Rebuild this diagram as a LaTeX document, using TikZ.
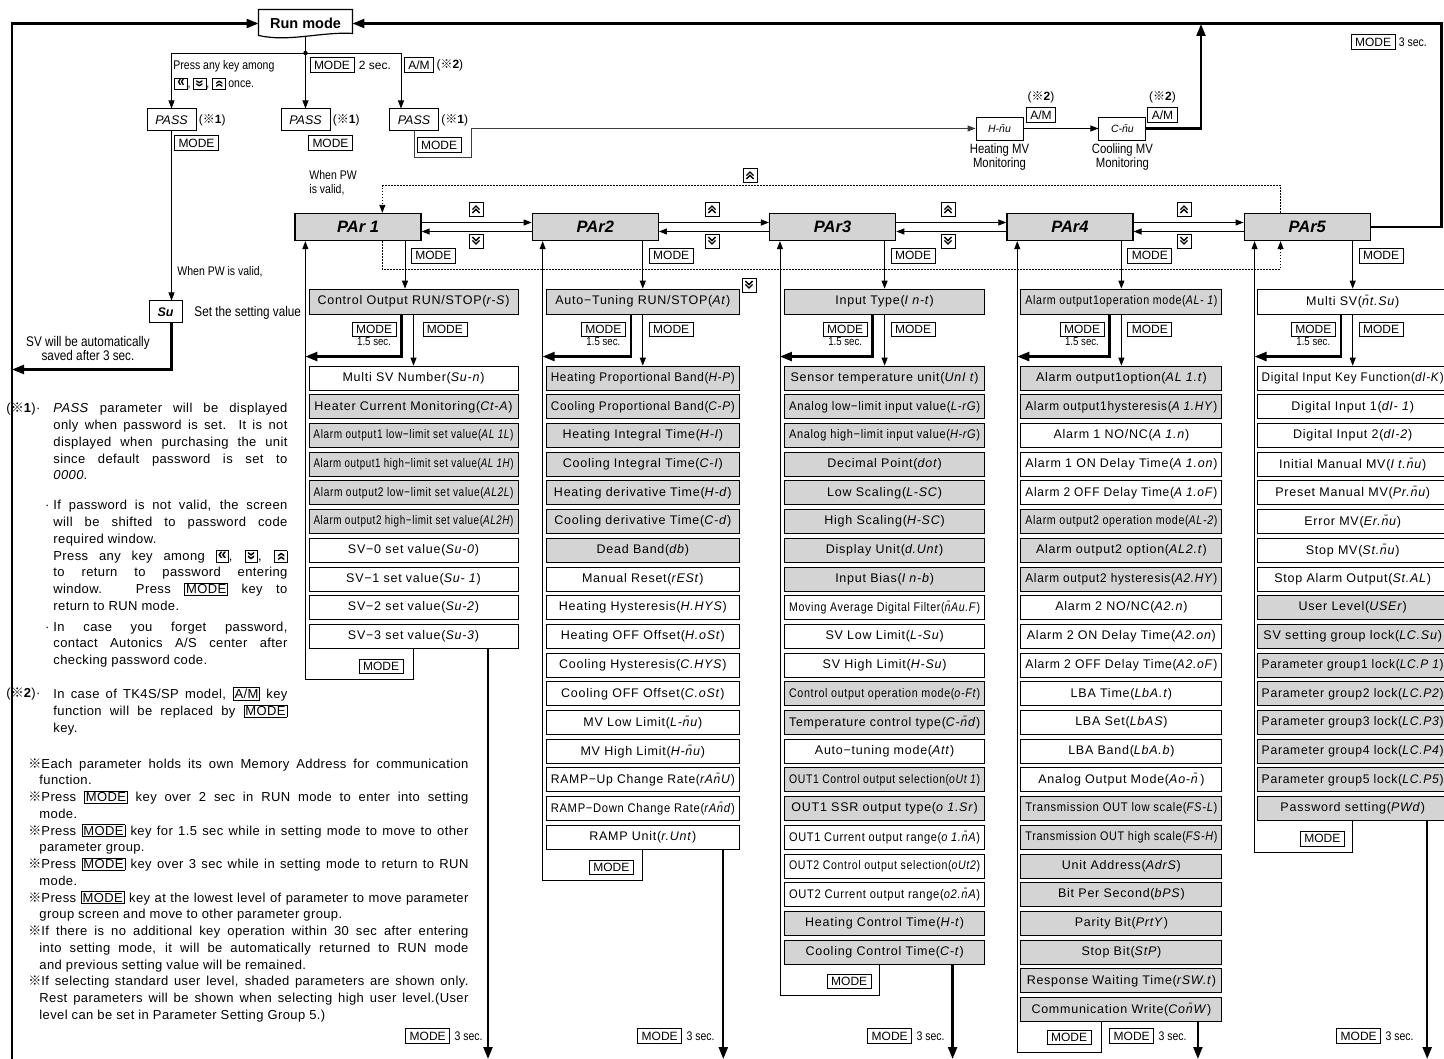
\documentclass[tikz,border=0pt]{standalone}
\usepackage{fontspec}
\usepackage{graphicx}
\setmainfont{Liberation Sans}
\newfontfamily\rowfont{Liberation Sans}[LetterSpace=6]
\newfontfamily\notefont{Liberation Sans}[LetterSpace=3]
\newfontfamily\narrow{Liberation Sans}[FakeStretch=0.84]
\newfontfamily\cjk{Noto Sans CJK SC}
\usetikzlibrary{positioning,arrows.meta}
\definecolor{boxgray}{RGB}{212,212,212}
\definecolor{linegray}{RGB}{60,60,60}
\newcommand\rmark{{\cjk ※}}
\newcommand\cd[1]{\textit{#1}}
\newcommand\upch{\rotatebox[origin=c]{-90}{«}}
\newcommand\dnch{\rotatebox[origin=c]{90}{«}}
\newcommand\kbox[1]{{\setlength\fboxsep{0.4pt}\setlength\fboxrule{0.9pt}\fbox{\makebox[10.5pt][c]{\bfseries\fontsize{16}{16}\selectfont\rule[-1.5pt]{0pt}{10pt}#1}}}}
\newcommand\kleft{\kbox{\raisebox{0.5pt}{«}}}
\newcommand\kup{\kbox{\upch}}
\newcommand\kdown{\kbox{\dnch}}
\newcommand\mkey[1]{{\setlength\fboxsep{1pt}\setlength\fboxrule{0.8pt}\fbox{#1}}}
\newcommand\nitem{\par\hangindent=11pt\hangafter=1\noindent\rmark}
\newsavebox\rowsave
\newcommand\fitrow[1]{\sbox\rowsave{#1}%
  \ifdim\wd\rowsave>\dimexpr\colw pt-9pt\relax
    \resizebox{\dimexpr\colw pt-9pt\relax}{\ht\rowsave}{\usebox\rowsave}%
  \else\usebox\rowsave\fi}
\begin{document}
\begin{tikzpicture}[x=1pt, y=-1pt, node distance=28.7pt, line width=0.9pt,
    >={Triangle[length=8pt,width=6pt]},
    every node/.style={font=\fontsize{12}{14}\selectfont},
    lbl/.style={inner sep=1pt},
    nlbl/.style={inner sep=1pt, font=\narrow\fontsize{12.5}{14}\selectfont},
    runbox/.style={minimum width=93pt, minimum height=27pt, font=\bfseries\fontsize{14.5}{16}\selectfont},
    pwbox/.style={draw, line width=1pt, minimum width=49pt, minimum height=22pt, inner sep=0pt, font=\itshape\fontsize{12.5}{14}\selectfont},
    grp/.style={draw, line width=1.3pt, fill=boxgray, minimum width=126pt, minimum height=27pt, inner sep=0pt, font=\bfseries\itshape\fontsize{16.5}{18}\selectfont},
    prow/.style={draw, minimum width=\colw pt, minimum height=24pt, inner sep=0pt, font=\rowfont\fontsize{12.5}{14}\selectfont},
    srow/.style={prow, fill=boxgray},
    keylbl/.style={draw, line width=0.8pt, inner xsep=4pt, inner ysep=0pt, minimum height=14.5pt, font=\fontsize{12}{12}\selectfont},
    keyic/.style={draw, minimum size=14pt, inner sep=0pt},
    keyup/.style={keyic, path picture={\draw[line width=1.3pt]
      ([shift={(-3.6pt,-0.6pt)}]path picture bounding box.center) -- ++(3.6pt,3.6pt) -- ++(3.6pt,-3.6pt)
      ([shift={(-3.6pt,-4pt)}]path picture bounding box.center) -- ++(3.6pt,3.6pt) -- ++(3.6pt,-3.6pt);}},
    keydn/.style={keyic, path picture={\draw[line width=1.3pt]
      ([shift={(-3.6pt,0.6pt)}]path picture bounding box.center) -- ++(3.6pt,-3.6pt) -- ++(3.6pt,3.6pt)
      ([shift={(-3.6pt,4pt)}]path picture bounding box.center) -- ++(3.6pt,-3.6pt) -- ++(3.6pt,3.6pt);}},
    notes/.style={inner sep=0pt, align=justify, font=\notefont\fontsize{13}{16.75}\selectfont},
    thick line/.style={line width=2.3pt, -{Triangle[length=12pt,width=9pt]}},
    dotline/.style={dash pattern=on 1.5pt off 1.5pt}]
\useasboundingbox (0,0) rectangle (1444,1059);

% run mode and password entry
\node[runbox] (run) at (305.5,23.5) {Run mode};
\draw[line width=1.2pt] ([yshift=2pt]run.south west) -- (run.north west) -- (run.north east) -- ([yshift=4pt]run.south east) .. controls +(-30,-2) and +(30,7) .. ([yshift=2pt]run.south west) -- cycle;
\coordinate (j) at (305.5,53);
\draw (run.south) -- (j);
\fill (j) circle (2.2pt);
\node[pwbox] (pw1) at (171.5,120) {\cd{PASS}};
\node[pwbox] (pw2) at (305.5,120) {\cd{PASS}};
\node[pwbox] (pw3) at (414,120) {\cd{PASS}};
\coordinate[xshift=-13pt] (p3) at (pw3.north);
\draw[->] (j) -| (pw1.north);
\draw[->] (j) -- (pw2.north);
\draw[->] (j) -| (p3);
\node[nlbl, anchor=west] (hint1) at (172,66) {Press any key among};
\node[nlbl, anchor=west] (hint2) at (173,84) {\kleft, \kdown, \kup\ once.};
\node[keylbl] (m0a) at (332,65) {MODE};
\node[lbl, right=3pt of m0a] (t0a) {2 sec.};
\node[keylbl] (m0b) at (419,65) {A/M};
\node[lbl, right=1pt of m0b] (t0b) {(\rmark\textbf{2})};
\node[lbl, right=1pt of pw1] (f1) {(\rmark\textbf{1})};
\node[lbl, right=1pt of pw2] (f2) {(\rmark\textbf{1})};
\node[lbl, right=1pt of pw3] (f3) {(\rmark\textbf{1})};
\node[keylbl, below=4pt of pw1.south east] (m0c) {MODE};
\node[keylbl, below=4pt of pw2.south east] (m0d) {MODE};
\node[keylbl, below=6pt of pw3.south east] (m0e) {MODE};
\node[nlbl, anchor=north west, align=left] (pwv) at (308,169) {When PW\\is valid,};
\node[pwbox, minimum width=33pt, font=\bfseries\itshape\fontsize{12.5}{14}\selectfont] (sv) at (165.5,312) {Su};
\draw[->] (pw1.south) -- (pw1.south |- sv.north);
\node[nlbl, anchor=west] (pwv2) at (176,272) {When PW is valid,};
\node[nlbl, anchor=west, font=\narrow\fontsize{14}{15}\selectfont] (svt) at (193,313) {Set the setting value};
\node[nlbl, align=center, font=\narrow\fontsize{14}{14}\selectfont] (svs) at (88,348) {SV will be automatically\\saved after 3 sec.};
\coordinate (ft) at (12,23.5);
\coordinate (fb) at (12,1062);
\draw[thick line] (fb) -- (ft) -- (run.west);
\draw[thick line] (sv.south -| pw1.south) -- ++(0,46) coordinate (sb) -- (sb -| ft);

% manual MV monitoring
\node[draw, minimum width=47pt, minimum height=23pt, inner sep=0pt, font=\itshape\fontsize{10.5}{12}\selectfont] (hmv) at (999.5,128.5) {H-\=nu};
\node[draw, minimum width=47pt, minimum height=23pt, inner sep=0pt, font=\itshape\fontsize{10.5}{12}\selectfont, right=75pt of hmv] (cmv) {C-\=nu};
\coordinate (b3) at (471,157);
\draw[->, linegray] (pw3.south) -- (pw3.south |- b3) -- (b3) -- (b3 |- hmv.west) -- (hmv.west);
\draw[->] (hmv) -- (cmv);
\node[keylbl] (am1) at (1041,115) {A/M};
\node[lbl] (n21) at (1041,97) {(\rmark\textbf{2})};
\node[keylbl] (am2) at (1162.5,115) {A/M};
\node[lbl] (n22) at (1162.5,97) {(\rmark\textbf{2})};
\node[nlbl, below=2pt of hmv, align=center, font=\narrow\fontsize{13.5}{14}\selectfont] (hml) {Heating MV\\Monitoring};
\node[nlbl, below=2pt of cmv, align=center, font=\narrow\fontsize{13.5}{14}\selectfont] (cml) {Cooliing MV\\Monitoring};
\coordinate (cu) at (1201,24);
\draw[thick line] (cmv.east) -| (cu);
\coordinate (rt) at (1441.5,23.5);
\node[keylbl] (m0f) at (1373,42) {MODE};
\node[nlbl, right=2pt of m0f] (t0f) {3 sec.};

% parameter groups
\node[grp] (g1) at (358,227) {PAr 1};
\node[grp, right=110pt of g1] (g2) {PAr2};
\node[grp, right=110pt of g2] (g3) {PAr3};
\node[grp, right=110pt of g3] (g4) {PAr4};
\node[grp, right=110pt of g4] (g5) {PAr5};
\draw[thick line] (g5.east) -| (rt) -- (run.east);
\draw[->] ([yshift=4.5pt]g1.east) -- ([yshift=4.5pt]g2.west);
\draw[->] ([yshift=-4.5pt]g2.west) -- ([yshift=-4.5pt]g1.east);
\draw[->] ([yshift=4.5pt]g2.east) -- ([yshift=4.5pt]g3.west);
\draw[->] ([yshift=-4.5pt]g3.west) -- ([yshift=-4.5pt]g2.east);
\draw[->] ([yshift=4.5pt]g3.east) -- ([yshift=4.5pt]g4.west);
\draw[->] ([yshift=-4.5pt]g4.west) -- ([yshift=-4.5pt]g3.east);
\draw[->] ([yshift=4.5pt]g4.east) -- ([yshift=4.5pt]g5.west);
\draw[->] ([yshift=-4.5pt]g5.west) -- ([yshift=-4.5pt]g4.east);
\node[keyup] (ku1) at (476,209) {};
\node[keydn] (kd1) at (476,241) {};
\node[keyup] (ku2) at (712,209) {};
\node[keydn] (kd2) at (712,241) {};
\node[keyup] (ku3) at (948,209) {};
\node[keydn] (kd3) at (948,241) {};
\node[keyup] (ku4) at (1184,209) {};
\node[keydn] (kd4) at (1184,241) {};
\coordinate[xshift=88pt] (d1) at (g1.north west);
\coordinate[xshift=37pt] (d5) at (g5.north west);
\draw[dotline, ->] (d5) -- ++(0,-27) coordinate (dd) -- (dd -| d1) -- (d1);
\node[keyup] (ktop) at (750,175) {};
\coordinate[xshift=88pt] (e1) at (g1.south west);
\coordinate[xshift=37pt] (e5) at (g5.south west);
\draw[dotline, ->] (e1) -- ++(0,28) coordinate (de) -- (de -| e5) -- (e5);
\node[keydn] (kbot) at (749,285) {};
\coordinate (bot) at (0,1059);

% group 1
\def\colw{209}
\node[srow, minimum height=25pt, below=47.5pt of g1, xshift=55.5pt] (r1a) {\fitrow{Control Output RUN/STOP(\cd{r-S})}};
\node[prow, below of=r1a, yshift=-47.8pt] (r1b) {\fitrow{Multi SV Number(\cd{Su-n})}};
\node[srow, below of=r1b] (r1c) {\fitrow{Heater Current Monitoring(\cd{Ct-A})}};
\node[srow, below of=r1c] (r1d) {\fitrow{Alarm output1 low−limit set value(\cd{AL 1L})}};
\node[srow, below of=r1d] (r1e) {\fitrow{Alarm output1 high−limit set value(\cd{AL 1H})}};
\node[srow, below of=r1e] (r1f) {\fitrow{Alarm output2 low−limit set value(\cd{AL2L})}};
\node[srow, below of=r1f] (r1g) {\fitrow{Alarm output2 high−limit set value(\cd{AL2H})}};
\node[prow, below of=r1g] (r1h) {\fitrow{SV−0 set value(\cd{Su-0})}};
\node[prow, below of=r1h] (r1i) {\fitrow{SV−1 set value(\cd{Su- 1})}};
\node[prow, below of=r1i] (r1j) {\fitrow{SV−2 set value(\cd{Su-2})}};
\node[prow, below of=r1j] (r1k) {\fitrow{SV−3 set value(\cd{Su-3})}};
\coordinate[xshift=11pt] (u1) at (g1.south west);
\coordinate[xshift=-8.5pt] (k1) at (g1.south -| r1a.north);
\draw[->] (k1) -- (k1 |- r1a.north);
\node[keylbl, below right=7pt and 6pt of k1] (m1a) {MODE};
\coordinate[xshift=-12pt] (t1) at (r1a.south);
\draw[thick line] (t1) -- ++(0,42) coordinate (h1) -- (h1 -| u1);
\node[keylbl, below left=7pt and 5pt of t1] (m1b) {MODE};
\node[nlbl, font=\narrow\fontsize{11.5}{12}\selectfont, below=-1pt of m1b] (s1b) {1.5 sec.};
\node[keylbl, below right=7pt and 9pt of r1a.south] (m1c) {MODE};
\draw[->] (r1a.south) -- (r1b.north);
\draw[->] (r1k.south) -- ++(0,31) coordinate (v1) -- (v1 -| u1) -- (u1);
\node[keylbl, below left=10pt and 10pt of r1k.south] (m1d) {MODE};
\coordinate[xshift=74.5pt] (x1) at (r1k.south);
\draw[thick line] (x1) -- (x1 |- bot);
\node[nlbl, anchor=east] (s1z) at (484,1036) {3 sec.};
\node[keylbl, left=3pt of s1z] (m1z) {MODE};

% group 2
\def\colw{193}
\node[srow, minimum height=25pt, below=47.5pt of g2, xshift=47.5pt] (r2a) {\fitrow{Auto−Tuning RUN/STOP(\cd{At})}};
\node[srow, below of=r2a, yshift=-47.8pt] (r2b) {\fitrow{Heating Proportional Band(\cd{H-P})}};
\node[srow, below of=r2b] (r2c) {\fitrow{Cooling Proportional Band(\cd{C-P})}};
\node[srow, below of=r2c] (r2d) {\fitrow{Heating Integral Time(\cd{H-I})}};
\node[srow, below of=r2d] (r2e) {\fitrow{Cooling Integral Time(\cd{C-I})}};
\node[srow, below of=r2e] (r2f) {\fitrow{Heating derivative Time(\cd{H-d})}};
\node[srow, below of=r2f] (r2g) {\fitrow{Cooling derivative Time(\cd{C-d})}};
\node[srow, below of=r2g] (r2h) {\fitrow{Dead Band(\cd{db})}};
\node[prow, below of=r2h] (r2i) {\fitrow{Manual Reset(\cd{rESt})}};
\node[prow, below of=r2i] (r2j) {\fitrow{Heating Hysteresis(\cd{H.HYS})}};
\node[prow, below of=r2j] (r2k) {\fitrow{Heating OFF Offset(\cd{H.oSt})}};
\node[prow, below of=r2k] (r2l) {\fitrow{Cooling Hysteresis(\cd{C.HYS})}};
\node[prow, below of=r2l] (r2m) {\fitrow{Cooling OFF Offset(\cd{C.oSt})}};
\node[prow, below of=r2m] (r2n) {\fitrow{MV Low Limit(\cd{L-\=nu})}};
\node[prow, below of=r2n] (r2o) {\fitrow{MV High Limit(\cd{H-\=nu})}};
\node[prow, below of=r2o] (r2p) {\fitrow{RAMP−Up Change Rate(\cd{rA\=nU})}};
\node[prow, below of=r2p] (r2q) {\fitrow{RAMP−Down Change Rate(\cd{rA\=nd})}};
\node[prow, below of=r2q] (r2r) {\fitrow{RAMP Unit(\cd{r.Unt})}};
\coordinate[xshift=11pt] (u2) at (g2.south west);
\coordinate (k2) at (g2.south -| r2a.north);
\draw[->] (k2) -- (k2 |- r2a.north);
\node[keylbl, below right=7pt and 6pt of k2] (m2a) {MODE};
\coordinate[xshift=-12pt] (t2) at (r2a.south);
\draw[thick line] (t2) -- ++(0,42) coordinate (h2) -- (h2 -| u2);
\node[keylbl, below left=7pt and 5pt of t2] (m2b) {MODE};
\node[nlbl, font=\narrow\fontsize{11.5}{12}\selectfont, below=-1pt of m2b] (s2b) {1.5 sec.};
\node[keylbl, below right=7pt and 6pt of r2a.south] (m2c) {MODE};
\draw[->] (r2a.south) -- (r2b.north);
\draw[->] (r2r.south) -- ++(0,31) coordinate (v2) -- (v2 -| u2) -- (u2);
\node[keylbl, below left=10pt and 9pt of r2r.south] (m2d) {MODE};
\coordinate[xshift=80.5pt] (x2) at (r2r.south);
\draw[thick line] (x2) -- (x2 |- bot);
\node[nlbl, anchor=east] (s2z) at (716,1036) {3 sec.};
\node[keylbl, left=3pt of s2z] (m2z) {MODE};

% group 3
\def\colw{200}
\node[srow, minimum height=25pt, below=47.5pt of g3, xshift=52pt] (r3a) {\fitrow{Input Type(\cd{I n-t})}};
\node[srow, below of=r3a, yshift=-47.8pt] (r3b) {\fitrow{Sensor temperature unit(\cd{UnI t})}};
\node[srow, below of=r3b] (r3c) {\fitrow{Analog low−limit input value(\cd{L-rG})}};
\node[srow, below of=r3c] (r3d) {\fitrow{Analog high−limit input value(\cd{H-rG})}};
\node[srow, below of=r3d] (r3e) {\fitrow{Decimal Point(\cd{dot})}};
\node[srow, below of=r3e] (r3f) {\fitrow{Low Scaling(\cd{L-SC})}};
\node[srow, below of=r3f] (r3g) {\fitrow{High Scaling(\cd{H-SC})}};
\node[srow, below of=r3g] (r3h) {\fitrow{Display Unit(\cd{d.Unt})}};
\node[srow, below of=r3h] (r3i) {\fitrow{Input Bias(\cd{I n-b})}};
\node[prow, below of=r3i] (r3j) {\fitrow{Moving Average Digital Filter(\cd{\=nAu.F})}};
\node[prow, below of=r3j] (r3k) {\fitrow{SV Low Limit(\cd{L-Su})}};
\node[prow, below of=r3k] (r3l) {\fitrow{SV High Limit(\cd{H-Su})}};
\node[srow, below of=r3l] (r3m) {\fitrow{Control output operation mode(\cd{o-Ft})}};
\node[srow, below of=r3m] (r3n) {\fitrow{Temperature control type(\cd{C-\=nd})}};
\node[prow, below of=r3n] (r3o) {\fitrow{Auto−tuning mode(\cd{Att})}};
\node[srow, below of=r3o] (r3p) {\fitrow{OUT1 Control output selection(\cd{oUt 1})}};
\node[srow, below of=r3p] (r3q) {\fitrow{OUT1 SSR output type(\cd{o 1.Sr})}};
\node[prow, below of=r3q] (r3r) {\fitrow{OUT1 Current output range(\cd{o 1.\=nA})}};
\node[prow, below of=r3r] (r3s) {\fitrow{OUT2 Control output selection(\cd{oUt2})}};
\node[prow, below of=r3s] (r3t) {\fitrow{OUT2 Current output range(\cd{o2.\=nA})}};
\node[srow, below of=r3t] (r3u) {\fitrow{Heating Control Time(\cd{H-t})}};
\node[srow, below of=r3u] (r3v) {\fitrow{Cooling Control Time(\cd{C-t})}};
\coordinate[xshift=11pt] (u3) at (g3.south west);
\coordinate (k3) at (g3.south -| r3a.north);
\draw[->] (k3) -- (k3 |- r3a.north);
\node[keylbl, below right=7pt and 6pt of k3] (m3a) {MODE};
\coordinate[xshift=-12pt] (t3) at (r3a.south);
\draw[thick line] (t3) -- ++(0,42) coordinate (h3) -- (h3 -| u3);
\node[keylbl, below left=7pt and 5pt of t3] (m3b) {MODE};
\node[nlbl, font=\narrow\fontsize{11.5}{12}\selectfont, below=-1pt of m3b] (s3b) {1.5 sec.};
\node[keylbl, below right=7pt and 6pt of r3a.south] (m3c) {MODE};
\draw[->] (r3a.south) -- (r3b.north);
\coordinate[xshift=-5pt] (l3) at (r3v.south);
\draw[->] (l3) -- ++(0,31) coordinate (v3) -- (v3 -| u3) -- (u3);
\node[keylbl, below left=9pt and 8pt of l3] (m3d) {MODE};
\coordinate[xshift=68pt] (x3) at (r3v.south);
\draw[thick line] (x3) -- (x3 |- bot);
\node[nlbl, anchor=east] (s3z) at (946,1036) {3 sec.};
\node[keylbl, left=3pt of s3z] (m3z) {MODE};

% group 4
\def\colw{201}
\node[srow, minimum height=25pt, below=47.5pt of g4, xshift=51.5pt] (r4a) {\fitrow{Alarm output1operation mode(\cd{AL- 1})}};
\node[srow, below of=r4a, yshift=-47.8pt] (r4b) {\fitrow{Alarm output1option(\cd{AL 1.t})}};
\node[srow, below of=r4b] (r4c) {\fitrow{Alarm output1hysteresis(\cd{A 1.HY})}};
\node[prow, below of=r4c] (r4d) {\fitrow{Alarm 1 NO/NC(\cd{A 1.n})}};
\node[prow, below of=r4d] (r4e) {\fitrow{Alarm 1 ON Delay Time(\cd{A 1.on})}};
\node[prow, below of=r4e] (r4f) {\fitrow{Alarm 2 OFF Delay Time(\cd{A 1.oF})}};
\node[srow, below of=r4f] (r4g) {\fitrow{Alarm output2 operation mode(\cd{AL-2})}};
\node[srow, below of=r4g] (r4h) {\fitrow{Alarm output2 option(\cd{AL2.t})}};
\node[srow, below of=r4h] (r4i) {\fitrow{Alarm output2 hysteresis(\cd{A2.HY})}};
\node[prow, below of=r4i] (r4j) {\fitrow{Alarm 2 NO/NC(\cd{A2.n})}};
\node[prow, below of=r4j] (r4k) {\fitrow{Alarm 2 ON Delay Time(\cd{A2.on})}};
\node[prow, below of=r4k] (r4l) {\fitrow{Alarm 2 OFF Delay Time(\cd{A2.oF})}};
\node[prow, below of=r4l] (r4m) {\fitrow{LBA Time(\cd{LbA.t})}};
\node[prow, below of=r4m] (r4n) {\fitrow{LBA Set(\cd{LbAS})}};
\node[prow, below of=r4n] (r4o) {\fitrow{LBA Band(\cd{LbA.b})}};
\node[prow, below of=r4o] (r4p) {\fitrow{Analog Output Mode(\cd{Ao-\=n})}};
\node[srow, below of=r4p] (r4q) {\fitrow{Transmission OUT low scale(\cd{FS-L})}};
\node[srow, below of=r4q] (r4r) {\fitrow{Transmission OUT high scale(\cd{FS-H})}};
\node[srow, below of=r4r] (r4s) {\fitrow{Unit Address(\cd{AdrS})}};
\node[srow, below of=r4s] (r4t) {\fitrow{Bit Per Second(\cd{bPS})}};
\node[srow, below of=r4t] (r4u) {\fitrow{Parity Bit(\cd{PrtY})}};
\node[srow, below of=r4u] (r4v) {\fitrow{Stop Bit(\cd{StP})}};
\node[srow, below of=r4v] (r4w) {\fitrow{Response Waiting Time(\cd{rSW.t})}};
\node[srow, below of=r4w] (r4x) {\fitrow{Communication Write(\cd{Co\=nW})}};
\coordinate[xshift=11pt] (u4) at (g4.south west);
\coordinate (k4) at (g4.south -| r4a.north);
\draw[->] (k4) -- (k4 |- r4a.north);
\node[keylbl, below right=7pt and 6pt of k4] (m4a) {MODE};
\coordinate[xshift=-12pt] (t4) at (r4a.south);
\draw[thick line] (t4) -- ++(0,42) coordinate (h4) -- (h4 -| u4);
\node[keylbl, below left=7pt and 5pt of t4] (m4b) {MODE};
\node[nlbl, font=\narrow\fontsize{11.5}{12}\selectfont, below=-1pt of m4b] (s4b) {1.5 sec.};
\node[keylbl, below right=7pt and 6pt of r4a.south] (m4c) {MODE};
\draw[->] (r4a.south) -- (r4b.north);
\coordinate[xshift=-20pt] (l4) at (r4x.south);
\draw[->] (l4) -- ++(0,30) coordinate (v4) -- (v4 -| u4) -- (u4);
\node[keylbl, below left=8pt and 10pt of l4] (m4d) {MODE};
\coordinate[xshift=76.5pt] (x4) at (r4x.south);
\draw[thick line] (x4) -- (x4 |- bot);
\node[nlbl, anchor=east] (s4z) at (1188,1036) {3 sec.};
\node[keylbl, left=3pt of s4z] (m4z) {MODE};

% group 5
\def\colw{191}
\node[prow, minimum height=25pt, below=47.5pt of g5, xshift=45.5pt] (r5a) {\fitrow{Multi SV(\cd{\=nt.Su})}};
\node[prow, below of=r5a, yshift=-47.8pt] (r5b) {\fitrow{Digital Input Key Function(\cd{dI-K})}};
\node[prow, below of=r5b] (r5c) {\fitrow{Digital Input 1(\cd{dI- 1})}};
\node[prow, below of=r5c] (r5d) {\fitrow{Digital Input 2(\cd{dI-2})}};
\node[prow, below of=r5d] (r5e) {\fitrow{Initial Manual MV(\cd{I t.\=nu})}};
\node[prow, below of=r5e] (r5f) {\fitrow{Preset Manual MV(\cd{Pr.\=nu})}};
\node[prow, below of=r5f] (r5g) {\fitrow{Error MV(\cd{Er.\=nu})}};
\node[prow, below of=r5g] (r5h) {\fitrow{Stop MV(\cd{St.\=nu})}};
\node[prow, below of=r5h] (r5i) {\fitrow{Stop Alarm Output(\cd{St.AL})}};
\node[srow, below of=r5i] (r5j) {\fitrow{User Level(\cd{USEr})}};
\node[srow, below of=r5j] (r5k) {\fitrow{SV setting group lock(\cd{LC.Su})}};
\node[srow, below of=r5k] (r5l) {\fitrow{Parameter group1 lock(\cd{LC.P 1})}};
\node[srow, below of=r5l] (r5m) {\fitrow{Parameter group2 lock(\cd{LC.P2})}};
\node[srow, below of=r5m] (r5n) {\fitrow{Parameter group3 lock(\cd{LC.P3})}};
\node[srow, below of=r5n] (r5o) {\fitrow{Parameter group4 lock(\cd{LC.P4})}};
\node[srow, below of=r5o] (r5p) {\fitrow{Parameter group5 lock(\cd{LC.P5})}};
\node[srow, below of=r5p] (r5q) {\fitrow{Password setting(\cd{PWd})}};
\coordinate[xshift=11pt] (u5) at (g5.south west);
\coordinate (k5) at (g5.south -| r5a.north);
\draw[->] (k5) -- (k5 |- r5a.north);
\node[keylbl, below right=7pt and 6pt of k5] (m5a) {MODE};
\coordinate[xshift=-12pt] (t5) at (r5a.south);
\draw[thick line] (t5) -- ++(0,42) coordinate (h5) -- (h5 -| u5);
\node[keylbl, below left=7pt and 5pt of t5] (m5b) {MODE};
\node[nlbl, font=\narrow\fontsize{11.5}{12}\selectfont, below=-1pt of m5b] (s5b) {1.5 sec.};
\node[keylbl, below right=7pt and 6pt of r5a.south] (m5c) {MODE};
\draw[->] (r5a.south) -- (r5b.north);
\draw[->] (r5q.south) -- ++(0,31) coordinate (v5) -- (v5 -| u5) -- (u5);
\node[keylbl, below left=10pt and 8pt of r5q.south] (m5d) {MODE};
\coordinate[xshift=74.5pt] (x5) at (r5q.south);
\draw[thick line] (x5) -- (x5 |- bot);
\node[nlbl, anchor=east] (s5z) at (1415,1036) {3 sec.};
\node[keylbl, left=3pt of s5z] (m5z) {MODE};

% notes
\node[lbl, anchor=base west, font=\notefont\fontsize{13}{14}\selectfont] (nl1) at (5,413) {(\rmark\textbf{1})·};
\node[notes, text width=234pt, anchor=north west] (nt1) at (53,403) {\cd{PASS} parameter will be displayed\linebreak only when password is set. It is not\linebreak displayed when purchasing the unit\linebreak since default password is set to\linebreak \cd{0000}.\par\vspace{13.3pt}\leavevmode\llap{·\ }If password is not valid, the screen\linebreak will be shifted to password code\linebreak required window.\newline Press any key among \kleft, \kdown, \kup\linebreak to return to password entering\linebreak window. Press \mkey{MODE} key to\linebreak return to RUN mode.\par\vspace{4pt}\leavevmode\llap{·\ }In case you forget password,\linebreak contact Autonics A/S center after\linebreak checking password code.\par};
\node[lbl, anchor=base west, font=\notefont\fontsize{13}{14}\selectfont] (nl2) at (5,697) {(\rmark\textbf{2})·};
\node[notes, text width=234pt, anchor=north west] (nt2) at (53,687) {In case of TK4S/SP model, \mkey{A/M} key\linebreak function will be replaced by \mkey{MODE}\linebreak key.\par};
\node[notes, text width=440pt, anchor=north west] (nt3) at (28,751) {\nitem Each parameter holds its own Memory Address for communication\linebreak function.\nitem Press \mkey{MODE} key over 2 sec in RUN mode to enter into setting\linebreak mode.\nitem Press \mkey{MODE} key for 1.5 sec while in setting mode to move to other\linebreak parameter group.\nitem Press \mkey{MODE} key over 3 sec while in setting mode to return to RUN\linebreak mode.\nitem Press \mkey{MODE} key at the lowest level of parameter to move parameter\linebreak group screen and move to other parameter group.\nitem If there is no additional key operation within 30 sec after entering\linebreak into setting mode, it will be automatically returned to RUN mode\linebreak and previous setting value will be remained.\nitem If selecting standard user level, shaded parameters are shown only.\linebreak Rest parameters will be shown when selecting high user level.(User\linebreak level can be set in Parameter Setting Group 5.)\par};
\end{tikzpicture}
\end{document}
